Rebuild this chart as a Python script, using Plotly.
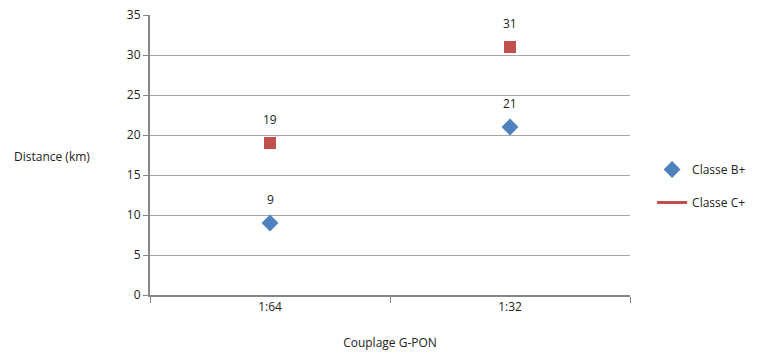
import plotly.graph_objects as go

categories = ["1:64", "1:32"]
classe_b = [9, 21]
classe_c = [19, 31]
y_ticks = [0, 5, 10, 15, 20, 25, 30, 35]

blue = "#4F81BD"
red = "#C0504D"
font = "Open Sans, Liberation Sans, sans-serif"

fig = go.Figure()
fig.add_trace(go.Scatter(x=categories, y=classe_b, mode="markers", name="Classe B+",
                         legendgroup="b",
                         marker=dict(symbol="diamond", size=13, color=blue)))
fig.add_trace(go.Scatter(x=categories, y=classe_c, mode="markers", name="Classe C+",
                         legendgroup="c",
                         marker=dict(symbol="square", size=12, color=red), showlegend=False))
fig.add_trace(go.Scatter(x=[None], y=[None], mode="lines", name="Classe C+",
                         legendgroup="c", line=dict(color=red, width=3)))

for xs, ys in ((categories, classe_b), (categories, classe_c)):
    for c, v in zip(xs, ys):
        fig.add_annotation(x=c, y=v, text=str(v), showarrow=False, yshift=24,
                           font=dict(family=font, size=12, color="#222"))

fig.add_annotation(xref="paper", yref="paper", x=-0.2875, y=0.493, text="Distance (km)",
                   showarrow=False, xanchor="left", font=dict(family=font, size=12, color="#222"))

fig.update_layout(
    width=761, height=354,
    margin=dict(l=150, r=131, t=15, b=59, autoexpand=False),
    paper_bgcolor="white", plot_bgcolor="white",
    font=dict(family=font, size=12, color="#222"),
    legend=dict(x=1.046, y=0.50, xanchor="left", yanchor="top", font=dict(size=12),
                tracegroupgap=14, itemwidth=30, traceorder="grouped"),
    xaxis=dict(type="category", range=[-0.5, 1.5], tickson="boundaries", ticks="outside",
               ticklen=6, tickcolor="#868686", showline=True, linecolor="#868686",
               linewidth=2, showgrid=False, zeroline=False, automargin=False,
               title=dict(text="Couplage G-PON", standoff=24, font=dict(size=12))),
    yaxis=dict(range=[0, 35], tickvals=y_ticks, ticks="outside", ticklen=5,
               tickcolor="#868686", showline=True, linecolor="#868686", linewidth=2,
               gridcolor="#A6A6A6", gridwidth=1, zeroline=False, automargin=False),
)

fig.write_html("out.html", config={"displayModeBar": False},
               post_script="document.body.style.margin='0';")
